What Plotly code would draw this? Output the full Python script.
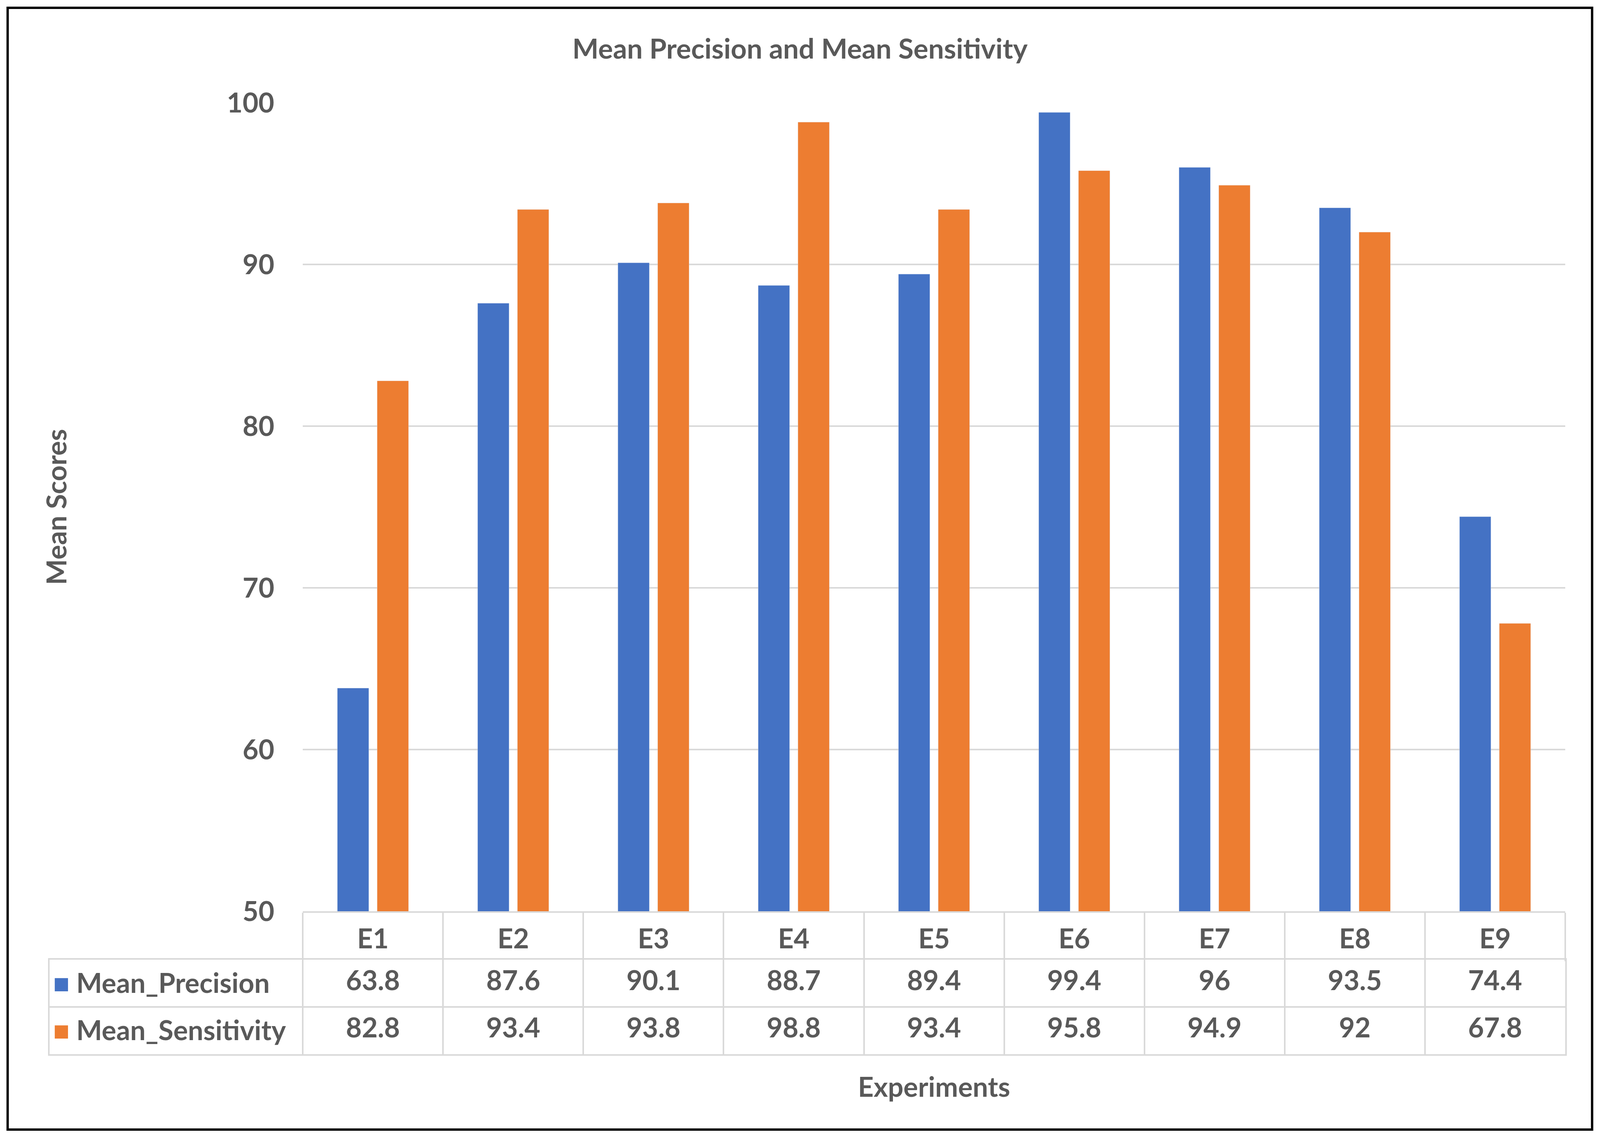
import plotly.graph_objects as go

# Chart data
experiments = ["E1", "E2", "E3", "E4", "E5", "E6", "E7", "E8", "E9"]
mean_precision = [63.8, 87.6, 90.1, 88.7, 89.4, 99.4, 96, 93.5, 74.4]
mean_sensitivity = [82.8, 93.4, 93.8, 98.8, 93.4, 95.8, 94.9, 92, 67.8]
y_ticks = [50, 60, 70, 80, 90, 100]
series_names = ["Mean_Precision", "Mean_Sensitivity"]

BLUE = "#4472C4"
ORANGE = "#ED7D31"
TEXT = "#595959"
GRID = "#D9D9D9"
FONT = "Lato"
FS = 70

# The browser only shows 4096 px across, so the 4348 px layout is squeezed to fit.
W, H = 4096, 2911
s = W / 4348


def sx(v):
    return v * s


L, R, T, B = sx(135), W - sx(4253), 263, 212
pw = W - L - R
ph = H - T - B
plot_left = sx(823)
axis_bottom = 2333
table_top = 2457

n = len(experiments)
col_w = (W - R - plot_left) / n
label_cols = (plot_left - L) / col_w   # width of the label column, in categories


def px_x(x):
    return (x - L) / pw


def px_y(y):
    return (H - B - y) / ph


fig = go.Figure()

fig.add_trace(go.Bar(
    x=experiments, y=mean_precision, name=series_names[0],
    marker_color=BLUE, hoverinfo="skip",
))
fig.add_trace(go.Bar(
    x=experiments, y=mean_sensitivity, name=series_names[1],
    marker_color=ORANGE, hoverinfo="skip",
))

# Data table below the axis, drawn as a second subplot with text marks
for name, vals in zip(series_names, [mean_precision, mean_sensitivity]):
    fig.add_trace(go.Scatter(
        x=experiments, y=[name] * n, text=[f"{v:g}" for v in vals],
        mode="text", textposition="middle center",
        textfont=dict(family=FONT, size=FS, color=TEXT, weight="bold"),
        xaxis="x2", yaxis="y2", hoverinfo="skip", cliponaxis=False,
    ))

# legend keys live in the row labels of the table
row_labels = [
    f"<span style='color:{c}'>■</span> {name}"
    for c, name in zip([BLUE, ORANGE], series_names)
]

axis_font = dict(family=FONT, size=FS, color=TEXT, weight="bold")

fig.update_layout(
    width=W, height=H,
    margin=dict(l=L, r=R, t=T, b=B, autoexpand=False),
    paper_bgcolor="white",
    plot_bgcolor="white",
    font=dict(family=FONT, color=TEXT, size=FS, weight="bold"),
    showlegend=False,
    barmode="group",
    bargap=0.433,
    bargroupgap=0.21,
    title=dict(
        text="Mean Precision and Mean Sensitivity",
        x=0.5, xref="container", xanchor="center",
        y=1 - 125 / H, yref="container", yanchor="middle",
        font=dict(family=FONT, size=71, color=TEXT, weight="bold"),
    ),
    xaxis=dict(
        domain=[px_x(plot_left), 1],
        range=[-0.5, n - 0.5],
        tickson="boundaries",
        ticks="outside",
        ticklen=table_top - axis_bottom,
        tickwidth=4,
        tickcolor=GRID,
        ticklabelstandoff=7,
        tickfont=axis_font,
        showgrid=False,
        zeroline=False,
        showline=True,
        linecolor=GRID,
        linewidth=4,
        automargin=False,
        title=dict(text="Experiments", standoff=318, font=axis_font),
    ),
    yaxis=dict(
        domain=[px_y(axis_bottom), 1],
        range=[50, 100],
        tickvals=y_ticks,
        showgrid=True,
        gridcolor=GRID,
        gridwidth=4,
        zeroline=False,
        showline=False,
        ticks="",
        ticklabelstandoff=72,
        automargin=False,
        tickfont=axis_font,
        title=dict(text="Mean Scores", standoff=386, font=axis_font),
    ),
    xaxis2=dict(
        domain=[0, 1],
        anchor="y2",
        type="category",
        categoryorder="array",
        categoryarray=experiments,
        range=[-0.5 - label_cols, n - 0.5],
        tickson="boundaries",
        showticklabels=False,
        ticks="",
        showgrid=True,
        gridcolor=GRID,
        gridwidth=4,
        zeroline=False,
        showline=True,
        mirror=True,
        linecolor=GRID,
        linewidth=4,
        automargin=False,
    ),
    yaxis2=dict(
        domain=[0, px_y(table_top)],
        anchor="x2",
        type="category",
        categoryorder="array",
        categoryarray=series_names[::-1],
        range=[-0.5, len(series_names) - 0.5],
        tickvals=series_names,
        ticktext=row_labels,
        tickson="boundaries",
        ticks="",
        ticklabelposition="inside",
        ticklabelstandoff=int(sx(22)),
        tickfont=axis_font,
        showgrid=True,
        gridcolor=GRID,
        gridwidth=4,
        zeroline=False,
        showline=True,
        mirror=True,
        linecolor=GRID,
        linewidth=4,
        automargin=False,
    ),
    shapes=[dict(
        type="rect", xref="paper", yref="paper",
        x0=px_x(sx(21)), x1=px_x(sx(4326)), y0=px_y(2892), y1=px_y(20),
        line=dict(color="black", width=6), fillcolor="rgba(0,0,0,0)", layer="above",
    )],
)

fig.write_html(
    "out.html",
    config={"displayModeBar": False},
    post_script="document.body.style.margin='0';",
)
